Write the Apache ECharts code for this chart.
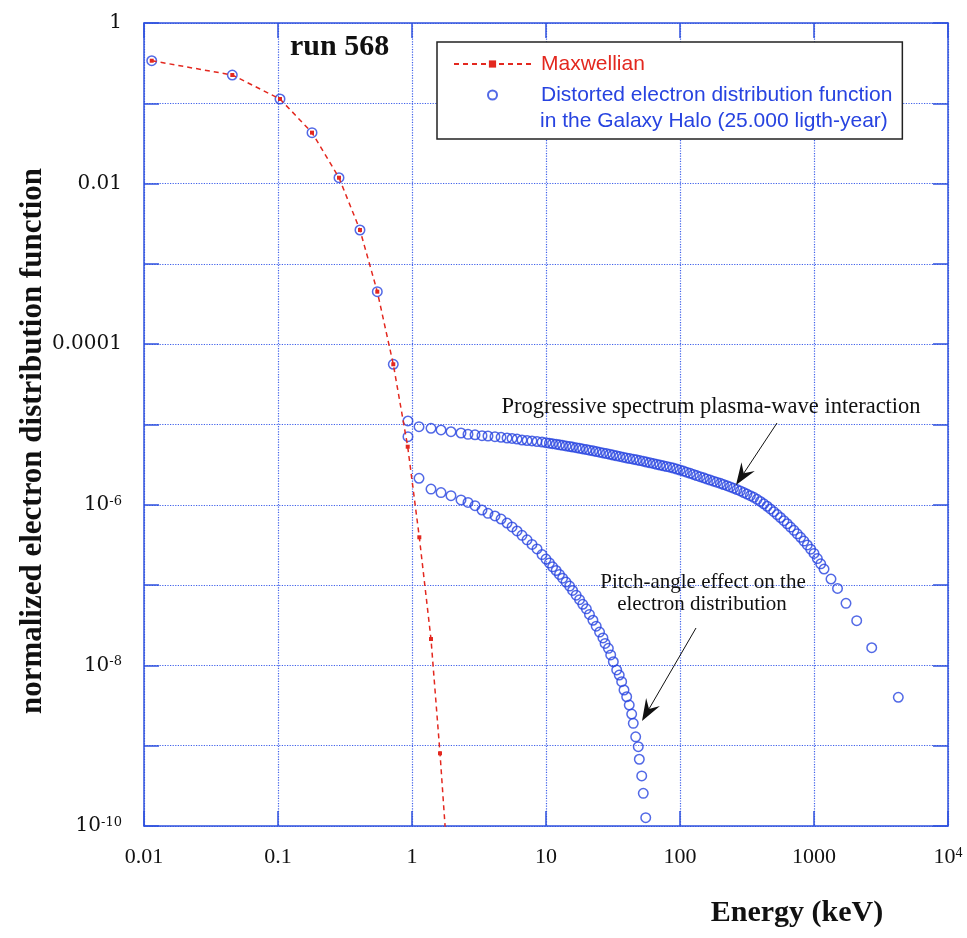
<!DOCTYPE html>
<html>
<head>
<meta charset="utf-8">
<title>run 568</title>
<script src="https://cdn.jsdelivr.net/npm/echarts@6/dist/echarts.min.js"></script>
<style>
  html, body { margin: 0; background: #fff; }
  #chart { width: 967px; height: 938px; }
</style>
</head>
<body>
<div id="chart"></div>
<script>
// values: [energy (keV), normalized distribution]
const maxwellian = [
  [0.01142, 0.339], [0.0456, 0.225], [0.1035, 0.1131], [0.1794, 0.0431],
  [0.2852, 0.01184], [0.409, 0.002643], [0.5508, 4.51e-4], [0.7251, 5.62e-5],
  [0.929, 5.29e-6], [1.134, 3.94e-7], [1.386, 2.13e-8], [1.618, 8.04e-10],
  [1.87, 2.5e-11]
];

// circles sitting on the Maxwellian at low energy
const coreDist = [
  [0.01142, 0.339], [0.0456, 0.225], [0.1035, 0.1131], [0.1794, 0.0431],
  [0.2852, 0.01184], [0.409, 0.002643], [0.5508, 4.51e-4], [0.7251, 5.62e-5]
];

// upper branch (plasma-wave interaction)
const upperBranch = [
  [0.933, 1.107e-5], [1.128, 9.40e-6], [1.386, 8.97e-6], [1.646, 8.55e-6],
  [1.954, 8.13e-6], [2.321, 7.84e-6], [2.617, 7.55e-6], [2.953, 7.45e-6],
  [3.33, 7.26e-6], [3.69, 7.19e-6], [4.16, 7.05e-6], [4.62, 6.93e-6],
  [5.12, 6.79e-6], [5.58, 6.70e-6], [6.08, 6.59e-6], [6.62, 6.41e-6],
  [7.22, 6.32e-6], [7.86, 6.24e-6], [8.57, 6.14e-6], [9.34, 6.05e-6],
  [10, 5.94e-6], [10.6, 5.85e-6], [11.2, 5.77e-6], [11.9, 5.68e-6],
  [12.6, 5.58e-6], [13.3, 5.50e-6], [14.1, 5.41e-6], [15.0, 5.32e-6],
  [15.8, 5.24e-6], [16.8, 5.15e-6], [17.8, 5.06e-6], [18.8, 4.97e-6],
  [20.0, 4.88e-6], [21.1, 4.79e-6], [22.4, 4.70e-6], [23.7, 4.61e-6],
  [25.1, 4.52e-6], [26.6, 4.43e-6], [28.2, 4.35e-6], [29.9, 4.26e-6],
  [31.6, 4.17e-6], [33.5, 4.08e-6], [35.5, 4.00e-6], [37.6, 3.92e-6],
  [39.8, 3.84e-6], [42.2, 3.77e-6], [44.7, 3.70e-6], [47.3, 3.63e-6],
  [50.1, 3.56e-6], [53.1, 3.49e-6], [56.2, 3.41e-6], [59.6, 3.34e-6],
  [63.1, 3.27e-6], [66.8, 3.20e-6], [70.8, 3.13e-6], [75.0, 3.06e-6],
  [79.4, 3.00e-6], [84.1, 2.94e-6], [89.1, 2.87e-6], [94.4, 2.79e-6],
  [100, 2.71e-6], [106, 2.63e-6], [112, 2.55e-6], [119, 2.47e-6],
  [126, 2.39e-6], [133, 2.31e-6], [141, 2.24e-6], [150, 2.17e-6],
  [158, 2.10e-6], [168, 2.03e-6], [178, 1.97e-6], [188, 1.91e-6],
  [200, 1.85e-6], [211, 1.79e-6], [224, 1.73e-6], [237, 1.67e-6],
  [251, 1.61e-6], [266, 1.55e-6], [282, 1.49e-6], [299, 1.42e-6],
  [316, 1.36e-6], [335, 1.30e-6], [355, 1.24e-6], [376, 1.17e-6],
  [398, 1.10e-6], [422, 1.03e-6], [447, 9.59e-7], [473, 8.88e-7],
  [501, 8.22e-7], [531, 7.56e-7], [562, 6.95e-7], [596, 6.35e-7],
  [631, 5.81e-7], [668, 5.28e-7], [708, 4.81e-7], [750, 4.35e-7],
  [794, 3.94e-7], [841, 3.53e-7], [891, 3.16e-7], [944, 2.80e-7],
  [1000, 2.48e-7], [1059, 2.14e-7], [1122, 1.84e-7],
  [1188, 1.585e-7], [1339, 1.19e-7], [1498, 9.08e-8], [1733, 5.93e-8],
  [2083, 3.61e-8], [2696, 1.66e-8], [4257, 4.01e-9]
];

// lower branch (pitch-angle effect)
const lowerBranch = [
  [0.933, 7.05e-6], [1.128, 2.14e-6], [1.386, 1.57e-6], [1.646, 1.42e-6],
  [1.954, 1.30e-6], [2.321, 1.15e-6], [2.617, 1.07e-6], [2.953, 9.75e-7],
  [3.33, 8.61e-7], [3.69, 7.83e-7], [4.16, 7.26e-7], [4.62, 6.65e-7],
  [5.12, 5.93e-7], [5.58, 5.30e-7], [6.08, 4.72e-7], [6.62, 4.17e-7],
  [7.22, 3.66e-7], [7.86, 3.21e-7], [8.57, 2.82e-7], [9.34, 2.40e-7],
  [10, 2.11e-7], [10.6, 1.89e-7], [11.2, 1.69e-7], [11.9, 1.52e-7],
  [12.6, 1.36e-7], [13.3, 1.22e-7], [14.1, 1.09e-7], [15.0, 9.72e-8],
  [15.8, 8.57e-8], [16.8, 7.50e-8], [17.8, 6.58e-8], [18.8, 5.77e-8],
  [20.0, 5.06e-8], [21.1, 4.31e-8], [22.4, 3.65e-8], [23.7, 3.08e-8],
  [25.1, 2.60e-8], [26.6, 2.20e-8], [27.6, 1.88e-8], [29.2, 1.63e-8],
  [30.4, 1.35e-8], [31.8, 1.11e-8], [33.7, 8.77e-9], [35.2, 7.59e-9],
  [36.7, 6.27e-9], [38.2, 4.94e-9], [40.0, 4.07e-9], [41.8, 3.21e-9],
  [43.6, 2.48e-9], [44.8, 1.90e-9], [46.7, 1.29e-9], [48.8, 9.72e-10],
  [49.7, 6.78e-10], [51.8, 4.20e-10], [53.2, 2.55e-10], [55.5, 1.27e-10]
];

const xTickLabels = ['0.01', '0.1', '1', '10', '100', '1000', '10^4'];
const yTickLabels = ['10^-10', '', '10^-8', '', '10^-6', '', '0.0001', '', '0.01', '', '1'];

const RED = '#e3281f';
const BLUE = '#2743e0';
const AXIS = '#2f52de';
const GRID = '#3f60ea';

const toRich = s => s.replace(/\^(.+)$/, '{sup|$1}');

function arrow(x1, y1, x2, y2) {
  const dx = x2 - x1, dy = y2 - y1;
  const len = Math.sqrt(dx * dx + dy * dy);
  const ux = dx / len, uy = dy / len;
  const nx = -uy, ny = ux;
  const bx = x2 - 22 * ux, by = y2 - 22 * uy;
  const mx = x2 - 14 * ux, my = y2 - 14 * uy;
  return [
    { type: 'line', z: 50, shape: { x1: x1, y1: y1, x2: mx, y2: my },
      style: { stroke: '#111', lineWidth: 1 } },
    { type: 'polygon', z: 50,
      shape: { points: [[x2, y2], [bx + 8 * nx, by + 8 * ny], [mx, my], [bx - 8 * nx, by - 8 * ny]] },
      style: { fill: '#111' } }
  ];
}

const chart = echarts.init(document.getElementById('chart'));

const axisBase = {
  type: 'log',
  logBase: 10,
  axisLine: { show: true, onZero: false, lineStyle: { color: AXIS, width: 1.5 } },
  axisTick: { show: true, inside: true, length: 15, lineStyle: { color: AXIS, width: 1.5 } },
  minorTick: { show: false },
  minorSplitLine: { show: false },
  splitLine: { show: false }
};

const option = {
  animation: false,
  backgroundColor: '#fff',
  grid: { left: 144, top: 23, width: 804, height: 803 },
  xAxis: [
    Object.assign({}, axisBase, {
      position: 'bottom', min: 0.01, max: 10000, interval: 1,
      splitLine: { show: true, lineStyle: { color: GRID, width: 1.2, type: [1.2, 1.4] } },
      axisLabel: {
        margin: 20, color: '#111', fontFamily: 'Liberation Serif', fontSize: 22,
        formatter: v => toRich(xTickLabels[Math.round(Math.log10(v)) + 2] || ''),
        rich: { sup: { fontSize: 14, fontFamily: 'Liberation Serif', color: '#111', verticalAlign: 'top' } }
      }
    }),
    Object.assign({}, axisBase, {
      position: 'top', min: 0.01, max: 10000, interval: 1,
      axisLabel: { show: false }
    })
  ],
  yAxis: [
    Object.assign({}, axisBase, {
      position: 'left', min: 1e-10, max: 1, interval: 1,
      splitLine: { show: true, lineStyle: { color: GRID, width: 1.2, type: [1.2, 1.4] } },
      axisLabel: {
        margin: 22, color: '#111', fontFamily: 'DejaVu Serif', fontSize: 20,
        formatter: v => toRich(yTickLabels[Math.round(Math.log10(v)) + 10] || ''),
        rich: { sup: { fontSize: 13, fontFamily: 'DejaVu Serif', color: '#111', verticalAlign: 'top' } }
      }
    }),
    Object.assign({}, axisBase, {
      position: 'right', min: 1e-10, max: 1, interval: 1,
      axisLabel: { show: false }
    })
  ],
  legend: {
    left: 437,
    top: 42,
    orient: 'vertical',
    padding: [9, 10, 31, 16],
    itemWidth: 77,
    itemHeight: 9,
    itemGap: 5,
    selectedMode: false,
    backgroundColor: '#fff',
    borderColor: '#222',
    borderWidth: 1.5,
    borderRadius: 0,
    textStyle: { fontFamily: 'Liberation Sans', fontSize: 21, lineHeight: 26, padding: [0, 0, 0, 5] },
    data: [
      { name: 'Maxwellian', textStyle: { color: RED } },
      { name: 'Distorted electron distribution function', textStyle: { color: BLUE } }
    ]
  },
  series: [
    {
      name: 'Distorted electron distribution function',
      type: 'scatter',
      symbol: 'circle',
      symbolSize: 9.5,
      z: 2,
      itemStyle: { color: 'rgba(0,0,0,0)', borderColor: BLUE, borderWidth: 1.5 },
      data: coreDist.concat(upperBranch, lowerBranch)
    },
    {
      name: 'Maxwellian',
      type: 'line',
      symbol: 'rect',
      symbolSize: 4,
      showAllSymbol: true,
      clip: true,
      z: 3,
      itemStyle: { color: RED },
      lineStyle: { color: RED, width: 1.5, type: [5, 4] },
      data: maxwellian
    }
  ],
  graphic: [
    { type: 'text', x: 540, y: 121, z: 100,
      style: { text: 'in the Galaxy Halo (25.000 ligth-year)', fill: BLUE,
        fontFamily: 'Liberation Sans', fontSize: 21, verticalAlign: 'middle' } },
    { type: 'text', x: 290, y: 47, z: 100,
      style: { text: 'run 568', fill: '#111', fontFamily: 'Liberation Serif',
        fontWeight: 'bold', fontSize: 30, verticalAlign: 'middle' } },
    { type: 'text', x: 33, y: 441, rotation: Math.PI / 2, z: 100,
      style: { text: 'normalized electron distribution function', fill: '#111',
        fontFamily: 'Liberation Serif', fontWeight: 'bold', fontSize: 31,
        align: 'center', verticalAlign: 'middle' } },
    { type: 'text', x: 797, y: 913, z: 100,
      style: { text: 'Energy (keV)', fill: '#111', fontFamily: 'Liberation Serif',
        fontWeight: 'bold', fontSize: 30, align: 'center', verticalAlign: 'middle' } },
    { type: 'text', x: 711, y: 407, z: 100,
      style: { text: 'Progressive spectrum plasma-wave interaction', fill: '#111',
        fontFamily: 'Liberation Serif', fontSize: 22.5, align: 'center', verticalAlign: 'middle' } },
    { type: 'text', x: 703, y: 582, z: 100,
      style: { text: 'Pitch-angle effect on the', fill: '#111',
        fontFamily: 'Liberation Serif', fontSize: 21, align: 'center', verticalAlign: 'middle' } },
    { type: 'text', x: 702, y: 604, z: 100,
      style: { text: 'electron distribution', fill: '#111',
        fontFamily: 'Liberation Serif', fontSize: 21, align: 'center', verticalAlign: 'middle' } }
  ].concat(arrow(777, 423, 736, 485), arrow(696, 628, 642, 721))
};

chart.setOption(option);
</script>
</body>
</html>
